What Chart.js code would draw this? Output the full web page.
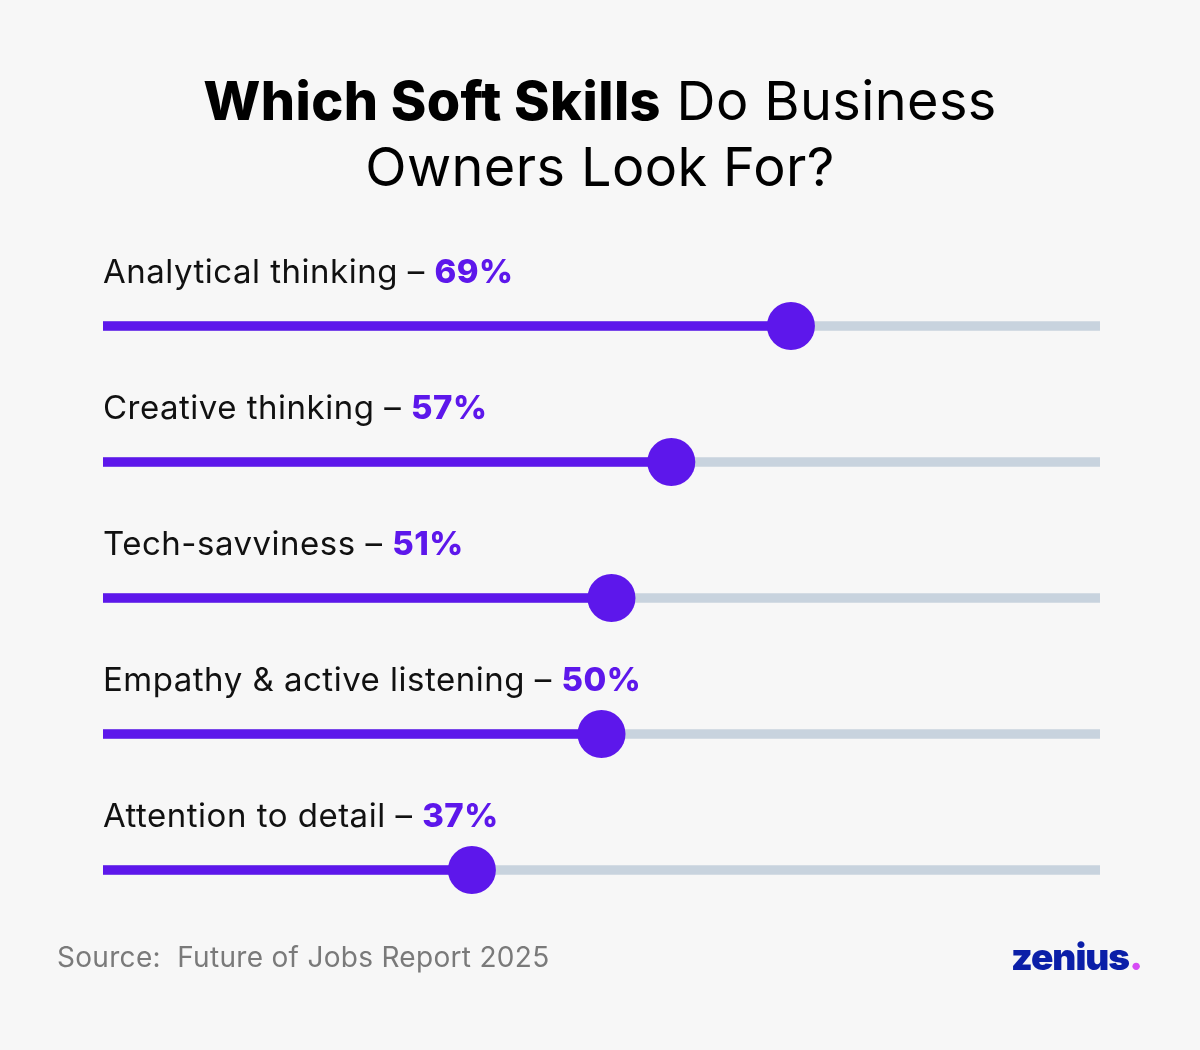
<!DOCTYPE html>
<html>
<head>
<meta charset="utf-8">
<script src="https://cdn.jsdelivr.net/npm/chart.js@4.4.1/dist/chart.umd.min.js"></script>
<style>
  html, body { margin: 0; padding: 0; background: #f7f7f7; }
  #wrap { position: relative; width: 1200px; height: 1050px; overflow: hidden; }
  #chart { position: absolute; left: 0; top: 0; }
  .title {
    position: absolute; left: 0; top: 68px; width: 1200px; text-align: center;
    font-family: Inter, "Noto Sans", sans-serif; font-size: 54px; line-height: 66px;
    color: #000; letter-spacing: 0.4px;
  }
  .title b { font-weight: 800; }
  .source {
    position: absolute; left: 57px; top: 940px;
    font-family: Inter, "Noto Sans", sans-serif; font-size: 28px; color: #7a7a7a;
    letter-spacing: 0.3px;
  }
  .logo {
    position: absolute; left: 1011px; top: 934px;
    font-family: Inter, "Noto Sans", sans-serif; font-size: 37px; font-weight: 900;
    color: #0b1fa8; letter-spacing: -1px;
  }
  .logo span { color: #d64bf5; }
</style>
</head>
<body>
<div id="wrap">
  <canvas id="chart" width="1200" height="1050"></canvas>
  <div class="title"><b>Which Soft Skills</b> Do Business<br>Owners Look For?</div>
  <div class="source">Source:&nbsp; Future of Jobs Report 2025</div>
  <div class="logo">zenius<span>.</span></div>
</div>
<script>
// data
const skills = ['Analytical thinking', 'Creative thinking', 'Tech-savviness', 'Empathy & active listening', 'Attention to detail'];
const shares = [69, 57, 51, 50, 37];
const track = [100, 100, 100, 100, 100];

const purple = '#5d17eb';
const grey = '#c8d3de';

// skill name + percent above each slider
const rowLabels = {
  id: 'rowLabels',
  afterDatasetsDraw(chart) {
    const ctx = chart.ctx;
    const yScale = chart.scales.y;
    const left = chart.chartArea.left;
    ctx.save();
    ctx.textBaseline = 'middle';
    ctx.textAlign = 'left';
    ctx.letterSpacing = '0.5px';
    skills.forEach((name, i) => {
      const y = yScale.getPixelForValue(i) - 53;
      const first = name + ' \u2013 ';
      ctx.font = '400 33px Inter, "Noto Sans", sans-serif';
      ctx.fillStyle = '#111';
      ctx.fillText(first, left, y);
      const w = ctx.measureText(first).width;
      ctx.font = '800 33px Inter, "Noto Sans", sans-serif';
      ctx.fillStyle = purple;
      ctx.fillText(shares[i] + '%', left + w, y);
    });
    ctx.restore();
  }
};

new Chart(document.getElementById('chart'), {
  type: 'bar',
  data: {
    labels: skills,
    datasets: [
      {
        type: 'line', indexAxis: 'y', data: shares, order: 0,
        showLine: false, pointRadius: 24, pointHoverRadius: 24,
        pointBackgroundColor: purple, pointBorderWidth: 0, borderColor: purple
      },
      {
        indexAxis: 'y', data: shares, order: 1, grouped: false,
        backgroundColor: purple, barThickness: 9, borderWidth: 0
      },
      {
        indexAxis: 'y', data: track, order: 2, grouped: false,
        backgroundColor: grey, barThickness: 9, borderWidth: 0
      }
    ]
  },
  options: {
    indexAxis: 'y',
    responsive: false,
    animation: false,
    layout: { padding: { left: 103, right: 100, top: 258, bottom: 112 } },
    scales: {
      x: { min: 0, max: 100, display: false },
      y: { display: false, offset: true }
    },
    plugins: { legend: { display: false }, tooltip: { enabled: false } }
  },
  plugins: [rowLabels]
});
</script>
</body>
</html>
